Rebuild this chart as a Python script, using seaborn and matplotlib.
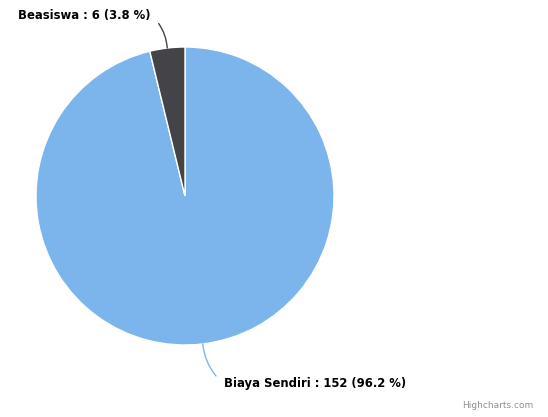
import matplotlib
matplotlib.use("Agg")
import matplotlib.pyplot as plt
import numpy as np
import seaborn as sns

# data
categories = ["Biaya Sendiri", "Beasiswa"]
counts = [152, 6]
colors = ["#7cb5ec", "#434348"]


def main():
    sns.set_style("white")
    plt.rcParams['font.family'] = ['DejaVu Sans']

    W, H = 548, 417
    fig = plt.figure(figsize=(W / 100, H / 100), dpi=100)
    ax = fig.add_axes([0, 0, 1, 1])

    cx, cy, r = 185, H - 196, 149
    wedges, _ = ax.pie(
        counts,
        colors=colors,
        startangle=90,
        counterclock=False,
        center=(cx, cy),
        radius=r,
        frame=True,
        wedgeprops=dict(edgecolor='white', linewidth=1),
    )
    ax.set_xlim(0, W)
    ax.set_ylim(0, H)
    ax.set_aspect('equal')
    ax.axis('off')

    total = sum(counts)
    # label placements: text anchor, alignment, connector start, curve
    label_pos = {
        "Biaya Sendiri": ((224, H - 384), 'left', (0, 0.5), 'arc3,rad=-0.2'),
        "Beasiswa": ((151, H - 15), 'right', (1, 0.5), 'arc3,rad=-0.2'),
    }
    for w, name, val, col in zip(wedges, categories, counts, colors):
        mid = np.deg2rad((w.theta1 + w.theta2) / 2)
        px, py = cx + r * np.cos(mid), cy + r * np.sin(mid)
        (tx, ty), ha, rel, conn = label_pos[name]
        pct = val / total * 100
        label = f"{name} : {val} ({pct:.1f} %)"
        ax.annotate(
            label, xy=(px, py), xytext=(tx, ty),
            ha=ha, va='center', fontsize=8.4, fontweight='bold', color='#000000',
            arrowprops=dict(arrowstyle='-', color=col, lw=1,
                            shrinkA=5, shrinkB=0, relpos=rel,
                            connectionstyle=conn),
        )

    ax.text(533, H - 406, "Highcharts.com", ha='right', va='center',
            fontsize=6.5, color='#909090')

    fig.savefig("out.png", dpi=100)


if __name__ == '__main__':
    main()
